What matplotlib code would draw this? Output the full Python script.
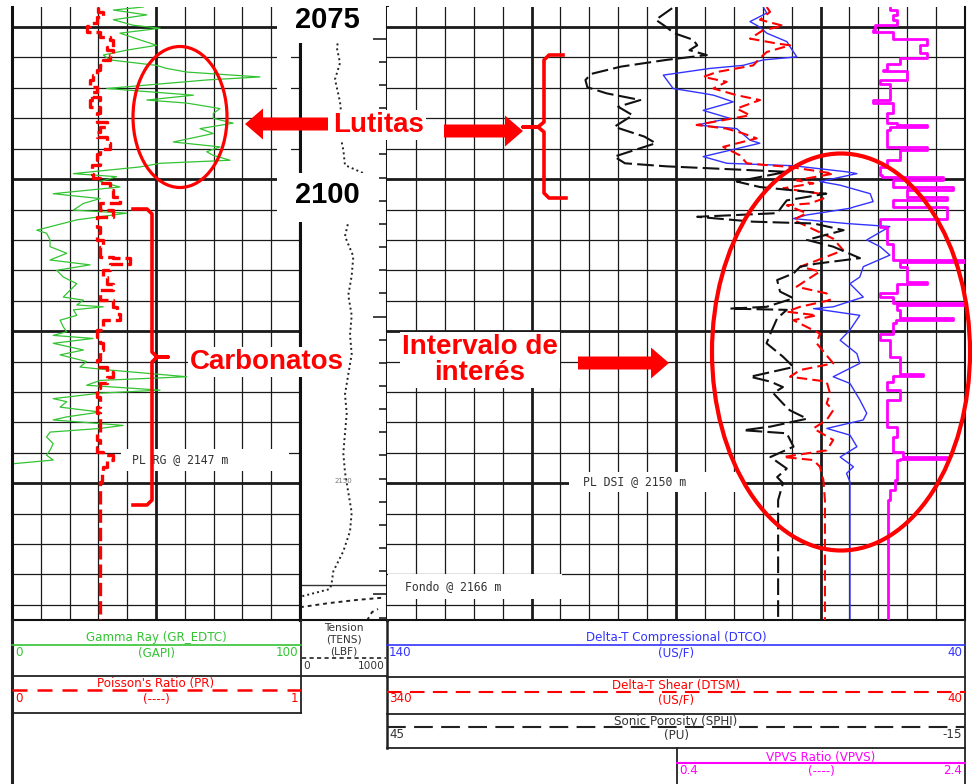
import numpy as np
import matplotlib.pyplot as plt
from matplotlib.patches import Ellipse, FancyArrow, Rectangle

W, H = 972, 784
TOP, BOTTOM = 2071.7, 2172.5     # profundidad visible (m)
FONDO = 2166.8

gr_depth = [2071.7, 2072.2, 2073.0, 2073.8, 2074.7, 2075.2, 2076.0, 2077.1, 2078.0, 2078.8,
            2079.6, 2080.4, 2081.3, 2081.8, 2082.4, 2083.2, 2083.7, 2085.1, 2086.2, 2087.0,
            2087.5, 2088.4, 2089.2, 2090.0, 2090.8, 2091.7, 2092.5, 2093.9, 2094.7, 2095.5,
            2096.1, 2096.9, 2097.4, 2098.0, 2099.1, 2099.6, 2100.4, 2101.3, 2102.4, 2103.2,
            2104.0, 2105.1, 2105.6, 2106.7, 2108.4, 2108.9, 2110.0, 2111.1, 2112.2, 2113.3,
            2114.1, 2115.0, 2116.1, 2117.2, 2118.3, 2119.4, 2119.9, 2120.7, 2121.0, 2121.5,
            2122.4, 2123.2, 2124.3, 2125.1, 2125.7, 2126.2, 2127.0, 2128.1, 2128.9, 2130.0,
            2130.9, 2131.4, 2132.5, 2133.1, 2133.9, 2134.7, 2135.2, 2136.1, 2136.6, 2137.5,
            2138.3, 2139.1, 2139.6, 2140.5, 2141.0, 2141.6, 2142.4, 2143.5, 2144.6, 2145.4,
            2146.2, 2146.8, 2147.3]
gr_val = [45.6, 35.2, 46.8, 35.2, 42.1, 51.4, 37.5, 44.4, 50.2, 39.8,
          31.7, 34.0, 50.2, 53.7, 60.7, 86.1, 67.6, 32.9, 63.0, 46.8,
          60.7, 72.2, 69.9, 69.9, 76.8, 65.3, 69.9, 56.0, 72.2, 67.6,
          69.9, 75.7, 51.4, 44.4, 21.3, 36.3, 30.6, 37.5, 14.3, 30.6,
          24.8, 21.3, 39.8, 22.5, 8.6, 12.0, 13.2, 13.2, 19.0, 13.2,
          27.1, 15.5, 17.8, 22.5, 20.1, 17.8, 24.8, 22.5, 31.7, 21.3,
          22.5, 16.7, 17.8, 19.0, 14.3, 28.2, 14.3, 24.8, 16.7, 25.9,
          23.6, 34.0, 60.7, 30.6, 25.9, 51.4, 30.6, 14.3, 19.0, 16.7,
          30.6, 19.0, 14.3, 38.6, 30.6, 13.2, 12.0, 14.3, 13.2, 12.0,
          14.3, 0.5, 0.0]

pr_depth = [2071.7, 2072.5, 2073.3, 2074.4, 2074.9, 2075.8, 2076.6, 2077.1, 2078.2, 2078.8,
            2079.6, 2080.4, 2081.3, 2082.1, 2082.9, 2083.7, 2084.8, 2085.6, 2086.5, 2087.0,
            2088.1, 2089.2, 2090.6, 2091.4, 2092.2, 2093.0, 2094.1, 2095.0, 2095.8, 2096.9,
            2097.7, 2099.1, 2099.9, 2100.7, 2101.8, 2102.9, 2104.0, 2105.1, 2106.2, 2107.8,
            2108.9, 2110.0, 2111.1, 2112.8, 2113.0, 2113.9, 2115.0, 2116.1, 2117.2, 2118.3,
            2119.9, 2121.0, 2122.1, 2123.2, 2124.8, 2125.9, 2127.0, 2128.1, 2129.8, 2130.9,
            2131.7, 2132.5, 2133.6, 2134.4, 2135.8, 2137.5, 2138.5, 2140.7, 2141.8, 2142.9,
            2144.0, 2144.8, 2145.4, 2146.2, 2147.3, 2148.4, 2149.8]
pr_val = [0.300, 0.317, 0.294, 0.271, 0.259, 0.306, 0.340, 0.352, 0.329, 0.352,
          0.340, 0.317, 0.306, 0.294, 0.282, 0.271, 0.294, 0.277, 0.306, 0.271,
          0.306, 0.294, 0.329, 0.306, 0.294, 0.329, 0.340, 0.306, 0.294, 0.306,
          0.277, 0.282, 0.306, 0.340, 0.352, 0.375, 0.306, 0.352, 0.294, 0.306,
          0.294, 0.317, 0.306, 0.352, 0.410, 0.340, 0.317, 0.329, 0.352, 0.306,
          0.352, 0.364, 0.375, 0.317, 0.294, 0.306, 0.317, 0.306, 0.294, 0.329,
          0.352, 0.329, 0.306, 0.294, 0.306, 0.294, 0.306, 0.306, 0.294, 0.306,
          0.294, 0.317, 0.352, 0.329, 0.317, 0.311, 0.306]

tens_depth = [2076.9, 2078.3, 2080.9, 2083.6, 2087.3, 2090.0, 2092.6, 2095.2, 2097.7, 2099.0,
              2107.1, 2109.4, 2112.7, 2115.9, 2119.1, 2122.4, 2125.6, 2128.8, 2132.1, 2135.4,
              2138.5, 2141.8, 2145.1, 2148.2, 2151.5, 2154.8, 2157.9, 2161.2, 2164.5, 2166.4,
              2167.4, 2168.6]
tens_val = [450, 422, 460, 402, 460, 479, 460, 498, 517, 724,
            555, 517, 613, 594, 555, 594, 575, 594, 555, 517,
            537, 517, 498, 517, 555, 594, 575, 498, 383, 364,
            345, 23]
tens2_depth = [2170.4, 2169.7, 2169.2, 2168.8]
tens2_val = [0, 345, 655, 977]
tens3_depth = [2172.6, 2171.2, 2170.7]
tens3_val = [770, 828, 897]

dtco_depth = [2071.7, 2072.7, 2074.1, 2075.0, 2076.0, 2077.4, 2078.2, 2079.9, 2080.4, 2081.3,
              2081.8, 2082.9, 2085.1, 2085.9, 2086.2, 2087.3, 2088.7, 2090.0, 2091.1, 2091.7,
              2093.6, 2094.1, 2096.3, 2097.4, 2097.8, 2098.8, 2099.1, 2100.4, 2101.0, 2102.4,
              2103.7, 2104.6, 2104.8, 2105.9, 2106.5, 2107.3, 2107.8, 2110.0, 2111.1, 2112.5,
              2114.4, 2116.1, 2117.2, 2119.4, 2121.0, 2121.3, 2122.4, 2124.8, 2126.5, 2128.7,
              2130.3, 2132.5, 2133.6, 2136.3, 2138.5, 2139.6, 2141.0, 2142.1, 2144.0, 2145.7,
              2147.3, 2148.4, 2149.8, 2152.3]
dtco_val = [74.9, 74.3, 77.2, 75.5, 74.3, 70.8, 70.3, 69.1, 74.9, 78.4,
            84.1, 92.2, 90.5, 85.3, 83.5, 80.1, 85.3, 80.7, 86.4, 79.5,
            77.2, 75.5, 85.3, 81.2, 69.7, 60.5, 58.7, 65.1, 61.6, 56.4,
            55.9, 59.3, 59.9, 67.4, 69.7, 60.5, 53.0, 57.0, 54.7, 53.0,
            57.6, 58.2, 59.9, 57.6, 62.8, 66.2, 58.2, 59.9, 61.6, 58.7,
            58.2, 62.8, 59.9, 58.2, 57.0, 57.6, 63.9, 59.9, 58.7, 61.6,
            59.3, 60.5, 59.9, 59.9]

dtsm_depth = [2071.7, 2072.5, 2073.8, 2074.8, 2075.5, 2076.9, 2077.7, 2078.0, 2079.1, 2080.1,
              2081.3, 2082.4, 2083.2, 2084.0, 2085.1, 2086.2, 2087.0, 2088.4, 2089.5, 2091.1,
              2091.7, 2092.5, 2093.3, 2094.7, 2096.1, 2097.4, 2097.7, 2098.0, 2099.1, 2100.2,
              2100.7, 2101.5, 2102.4, 2103.2, 2104.0, 2104.3, 2105.6, 2106.7, 2109.8, 2111.7,
              2113.6, 2114.4, 2115.2, 2116.6, 2117.7, 2118.8, 2119.9, 2121.0, 2121.8, 2122.4,
              2123.2, 2125.4, 2127.0, 2130.3, 2131.4, 2132.5, 2133.3, 2135.2, 2136.9, 2138.0,
              2139.6, 2141.0, 2142.9, 2144.6, 2145.7, 2146.2, 2147.3, 2149.5, 2152.8]
dtsm_val = [142.9, 141.2, 146.4, 134.3, 144.7, 151.6, 137.7, 130.8, 142.9, 146.4,
            149.9, 168.9, 175.8, 163.7, 170.6, 158.5, 146.4, 158.5, 151.6, 179.3,
            163.7, 155.1, 148.1, 165.5, 156.8, 153.3, 142.9, 130.8, 108.4, 127.4,
            118.7, 134.3, 115.3, 113.5, 120.5, 132.5, 122.2, 129.1, 108.4, 103.2,
            118.7, 125.6, 115.3, 122.2, 127.4, 111.8, 110.1, 125.6, 132.5, 117.0,
            129.1, 115.3, 117.0, 108.4, 125.6, 130.8, 111.8, 110.1, 111.8, 108.4,
            111.8, 118.7, 108.4, 111.8, 134.3, 118.7, 115.3, 113.5, 112.7]

sphi_depth = [2071.9, 2073.8, 2075.0, 2076.0, 2077.1, 2078.0, 2078.8, 2079.6, 2080.4, 2081.5,
              2082.7, 2083.7, 2084.9, 2085.9, 2087.0, 2088.1, 2089.5, 2091.4, 2093.0, 2094.1,
              2096.3, 2097.4, 2097.9, 2098.8, 2100.4, 2101.3, 2102.4, 2103.5, 2104.3, 2105.6,
              2106.2, 2107.0, 2107.3, 2108.4, 2110.0, 2111.1, 2113.0, 2113.9, 2114.4, 2115.5,
              2116.6, 2118.5, 2119.6, 2121.0, 2121.3, 2121.5, 2122.9, 2125.4, 2127.0, 2129.2,
              2130.9, 2132.5, 2133.3, 2134.2, 2135.2, 2136.9, 2138.0, 2139.4, 2140.7, 2141.3,
              2141.8, 2144.0, 2145.7, 2147.6, 2149.0, 2150.0, 2152.8]
sphi_val = [15.4, 17.1, 16.0, 15.2, 13.2, 12.8, 13.6, 11.8, 16.0, 20.7,
            23.8, 24.4, 24.2, 22.2, 18.7, 21.0, 19.5, 21.4, 18.3, 17.1,
            21.4, 20.3, 16.0, 3.5, 8.7, 6.3, -0.6, 3.5, 3.9, 4.5,
            12.8, 7.0, 0.7, -2.4, 1.4, -1.3, -4.1, 0.4, 2.1, 2.8,
            4.5, 4.2, 2.8, 5.6, 9.4, 3.5, 4.5, 5.2, 5.6, 3.9,
            2.8, 7.3, 5.2, 3.9, 4.9, 3.9, 3.2, 1.4, 5.2, 8.0,
            3.5, 2.8, 5.2, 3.5, 4.5, 3.9, 4.4]

vpvs_depth = [2071.9, 2072.2, 2073.0, 2073.8, 2074.7, 2075.5, 2075.8, 2076.9, 2077.0, 2078.0,
              2079.3, 2080.1, 2081.0, 2082.1, 2082.2, 2083.7, 2084.3, 2087.0, 2087.5, 2089.2,
              2090.8, 2091.1, 2091.4, 2091.9, 2093.6, 2094.7, 2095.2, 2096.9, 2098.0, 2099.3,
              2099.6, 2100.2, 2101.3, 2101.8, 2102.9, 2103.5, 2104.6, 2105.1, 2106.5, 2107.8,
              2110.6, 2113.3, 2113.6, 2114.4, 2116.9, 2117.3, 2118.8, 2119.4, 2120.4, 2120.7,
              2121.5, 2122.9, 2123.2, 2123.7, 2125.4, 2126.5, 2129.2, 2132.0, 2132.4, 2133.3,
              2134.7, 2136.3, 2138.0, 2140.7, 2142.4, 2144.9, 2145.7, 2146.0, 2146.2, 2149.5,
              2151.2, 2152.8]
vpvs_val = [1.879, 1.926, 1.902, 1.926, 1.775, 1.763, 1.902, 1.949, 2.134, 2.088,
            2.134, 1.949, 1.856, 1.833, 1.995, 1.810, 1.879, 1.763, 1.902, 1.856,
            1.926, 2.134, 1.880, 1.856, 1.856, 2.134, 1.949, 1.856, 1.810, 1.822,
            2.249, 1.902, 2.319, 1.995, 2.273, 1.902, 2.273, 2.273, 1.810, 1.856,
            1.902, 2.400, 1.950, 1.995, 2.134, 1.930, 1.810, 1.902, 2.400, 1.930,
            1.949, 2.319, 1.920, 1.902, 1.810, 1.879, 1.949, 2.110, 1.900, 1.856,
            1.949, 1.856, 1.856, 1.926, 1.902, 1.971, 2.273, 1.950, 1.926, 1.914,
            1.879, 1.867]

GRID = '#1a1a1a'
GREEN, RED, BLUE, MAG = '#33c433', '#ff0000', '#3333ff', '#ff00ff'

fig = plt.figure(figsize=(W / 100, H / 100), dpi=100)


def box(x0, x1, y0, y1):
    return [x0 / W, 1 - y1 / H, (x1 - x0) / W, (y1 - y0) / H]


def depth_grid(ax):
    for d in np.arange(2075, BOTTOM, 5):
        ax.axhline(d, color=GRID, lw=2.0 if d % 25 == 0 else 0.9, zorder=0.5)


def extend(depth, val):
    # la curva sigue con el ultimo valor hasta el fondo de la pista
    return np.r_[val, val[-1]], np.r_[depth, BOTTOM]


def clean(ax):
    ax.set_ylim(BOTTOM, TOP)
    ax.set_xticks([])
    ax.set_yticks([])
    ax.spines['top'].set_visible(False)
    for s in ('left', 'right', 'bottom'):
        ax.spines[s].set_linewidth(1.5)
        ax.spines[s].set_color('#111')


# pista 1: GR y PR
ax_gr = fig.add_axes(box(12, 300, 7, 620))
ax_gr.set_xlim(0, 100)
clean(ax_gr)
ax_gr.spines['left'].set_linewidth(2.2)
for v in np.arange(10, 100, 10):
    ax_gr.axvline(v, color=GRID, lw=2.0 if v == 50 else 0.9, zorder=0.5)
depth_grid(ax_gr)
x, y = extend(gr_depth, gr_val)
ax_gr.plot(x, y, color=GREEN, lw=0.9)

ax_pr = ax_gr.twiny()
ax_pr.set_xlim(0, 1)
ax_pr.set_ylim(BOTTOM, TOP)
ax_pr.axis('off')
x, y = extend(pr_depth, pr_val)
ax_pr.plot(x, y, color=RED, lw=2.4, ls=(0, (4, 1.5)), drawstyle='steps-pre')

# pista de profundidad: tension
ax_t = fig.add_axes(box(300, 387, 7, 620))
ax_t.set_xlim(0, 1000)
clean(ax_t)
ax_t.spines['left'].set_linewidth(2.2)
ax_t.spines['right'].set_linewidth(2.2)
tick_depths = np.arange(2076.9, BOTTOM, 45.7 / 12)
ax_t.yaxis.tick_right()
ax_t.set_yticks(tick_depths[::12])
ax_t.set_yticks(tick_depths, minor=True)
ax_t.tick_params(axis='y', which='major', direction='in', length=10, width=1.2,
                 labelright=False, color='#222')
ax_t.tick_params(axis='y', which='minor', direction='in', length=6, width=1.2, color='#222')
ax_t.axhline(FONDO, color='#333', lw=1.0)
ax_t.plot(tens_val, tens_depth, color='#222', lw=1.4, ls=(0, (1, 1.6)))
ax_t.plot(tens2_val, tens2_depth, color='#222', lw=1.4, ls=(0, (2, 2)))
ax_t.plot(tens3_val, tens3_depth, color='#222', lw=1.4, ls=(0, (2, 2)))
ax_t.text(500, 2149.6, '2150', fontsize=5, color='#777', ha='center', va='center')

# pista 2: sonico
ax_r = fig.add_axes(box(387, 965, 7, 620))
ax_r.set_xlim(140, 40)
clean(ax_r)
ax_r.spines['left'].set_visible(False)
for v in np.arange(45, 140, 5):
    ax_r.axvline(v, color=GRID, lw=2.0 if v in (115, 90, 65) else 0.9, zorder=0.5)
depth_grid(ax_r)
x, y = extend(dtco_depth, dtco_val)
ax_r.plot(x, y, color=BLUE, lw=1.0)

ax_sh = ax_r.twiny()
ax_sh.set_xlim(340, 40)
ax_sh.set_ylim(BOTTOM, TOP)
ax_sh.axis('off')
x, y = extend(dtsm_depth, dtsm_val)
ax_sh.plot(x, y, color=RED, lw=1.5, ls=(0, (5, 2.5)))

ax_ph = ax_r.twiny()
ax_ph.set_xlim(45, -15)
ax_ph.set_ylim(BOTTOM, TOP)
ax_ph.axis('off')
x, y = extend(sphi_depth, sphi_val)
ax_ph.plot(x, y, color='#111', lw=1.5, ls=(0, (8, 2.5)))

ax_vp = fig.add_axes(box(677, 965, 7, 620))
ax_vp.set_xlim(0.4, 2.4)
ax_vp.set_ylim(BOTTOM, TOP)
ax_vp.axis('off')
x, y = extend(vpvs_depth, vpvs_val)
ax_vp.plot(x, y, color=MAG, lw=2.0, drawstyle='steps-pre')

# capa superior en pixeles: encabezado, rotulos y anotaciones
ov = fig.add_axes([0, 0, 1, 1], zorder=10)
ov.set_xlim(0, W)
ov.set_ylim(H, 0)
ov.axis('off')


def hl(y, x0, x1, **kw):
    kw.setdefault('color', '#222')
    kw.setdefault('lw', 1.3)
    ov.plot([x0, x1], [y, y], **kw)


def vl(x, y0, y1, **kw):
    kw.setdefault('color', '#222')
    kw.setdefault('lw', 1.3)
    ov.plot([x, x], [y0, y1], **kw)


def htxt(x, y, s, color, ha='center', size=8.6):
    ov.text(x, y, s, color=color, ha=ha, va='center', fontsize=size, family='DejaVu Sans')


# encabezado
vl(12, 620, 784, lw=2.2)
vl(301, 620, 713)
hl(676, 12, 387)
hl(713, 12, 301)
vl(387, 620, 748, lw=1.8)
hl(677, 387, 965)
hl(714, 387, 965)
hl(748, 387, 965)
vl(965, 620, 784)
vl(677, 748, 784)

htxt(156, 638, 'Gamma Ray (GR_EDTC)', GREEN)
hl(645, 12, 301, color=GREEN, lw=1.2)
htxt(15, 652, '0', GREEN, 'left')
htxt(156, 653, '(GAPI)', GREEN)
htxt(298, 652, '100', GREEN, 'right')

htxt(156, 684, "Poisson's Ratio (PR)", RED)
hl(690, 12, 301, color=RED, lw=1.8, ls=(0, (6, 4)))
htxt(15, 699, '0', RED, 'left')
htxt(156, 700, '(----)', RED)
htxt(298, 699, '1', RED, 'right')

htxt(344, 628, 'Tension', '#333', size=7.6)
htxt(344, 640, '(TENS)', '#333', size=7.6)
htxt(344, 651, '(LBF)', '#333', size=7.6)
hl(658, 302, 386, color='#222', lw=1.2, ls=(0, (2.5, 2)))
htxt(303, 666, '0', '#333', 'left', size=7.6)
htxt(385, 666, '1000', '#333', 'right', size=7.6)

htxt(676, 638, 'Delta-T Compressional (DTCO)', BLUE)
hl(645, 387, 965, color=BLUE, lw=1.2)
htxt(389, 652, '140', BLUE, 'left')
htxt(676, 653, '(US/F)', BLUE)
htxt(962, 652, '40', BLUE, 'right')

htxt(676, 686, 'Delta-T Shear (DTSM)', RED)
hl(692, 387, 965, color=RED, lw=1.5, ls=(0, (7, 4)))
htxt(389, 699, '340', RED, 'left')
htxt(676, 700, '(US/F)', RED)
htxt(962, 699, '40', RED, 'right')

htxt(676, 721, 'Sonic Porosity (SPHI)', '#333')
hl(727, 387, 965, color='#222', lw=1.5, ls=(0, (9, 4)))
htxt(389, 734, '45', '#333', 'left')
htxt(676, 735, '(PU)', '#333')
htxt(962, 734, '-15', '#333', 'right')

htxt(821, 757, 'VPVS Ratio (VPVS)', MAG)
hl(763, 677, 965, color=MAG, lw=1.5)
htxt(679, 771, '0.4', MAG, 'left')
htxt(821, 772, '(----)', MAG)
htxt(962, 771, '2.4', MAG, 'right')

# rotulos propios del registro (fondo blanco)
for (x0, y0, w, h) in [(121, 449, 168, 22), (569, 472, 174, 20), (388, 574, 174, 25),
                       (278, 0, 94, 43), (278, 173, 94, 49), (277, 0, 14, 222)]:
    ov.add_patch(Rectangle((x0, y0), w, h, facecolor='white', edgecolor='none', zorder=1))
mono = dict(fontsize=8.3, family='DejaVu Sans Mono', color='#333', va='center', zorder=2)
ov.text(132, 460, 'PL RG @ 2147 m', **mono)
ov.text(583, 482, 'PL DSI @ 2150 m', **mono)
ov.text(405, 587, 'Fondo @ 2166 m', **mono)

# anotaciones
big = dict(family='Liberation Sans', weight='bold', ha='center', va='center', zorder=3)
ov.text(327, 20, '2075', fontsize=21, color='black', **big)
ov.text(327, 195, '2100', fontsize=21, color='black', **big)
wb = dict(facecolor='white', edgecolor='none', pad=1.5)
ov.text(379, 125, 'Lutitas', fontsize=20, color=RED, bbox=wb, **big)
ov.text(267, 362, 'Carbonatos', fontsize=20, color=RED, bbox=wb, **big)
ov.text(480, 360, 'Intervalo de\ninterés', fontsize=20, color=RED, bbox=wb,
        linespacing=1.0, **big)

ov.add_patch(Ellipse((180, 117), 94, 141, fill=False, ec=RED, lw=2.3, zorder=4))
ov.add_patch(Ellipse((841, 352), 258, 397, fill=False, ec=RED, lw=3.0, zorder=4,
                     clip_on=False))
for (x0, dx, y0) in [(328, -83, 124), (444, 79, 131), (578, 91, 363)]:
    ov.add_patch(FancyArrow(x0, y0, dx, 0, width=13, head_width=31, head_length=18,
                            length_includes_head=True, color=RED, lw=0, zorder=4))

ov.plot([563, 549, 544, 544, 538, 523, 538, 544, 544, 549, 566],
        [55, 55, 60, 122, 127, 127, 127, 132, 193, 198, 198],
        color=RED, lw=2.6, solid_joinstyle='round', zorder=4)
ov.plot([133, 147, 152, 152, 157, 168, 157, 152, 152, 147, 133],
        [209, 209, 214, 352, 357, 357, 357, 362, 500, 505, 505],
        color=RED, lw=2.6, solid_joinstyle='round', zorder=4)

fig.savefig('out.png', dpi=100, facecolor='white')
